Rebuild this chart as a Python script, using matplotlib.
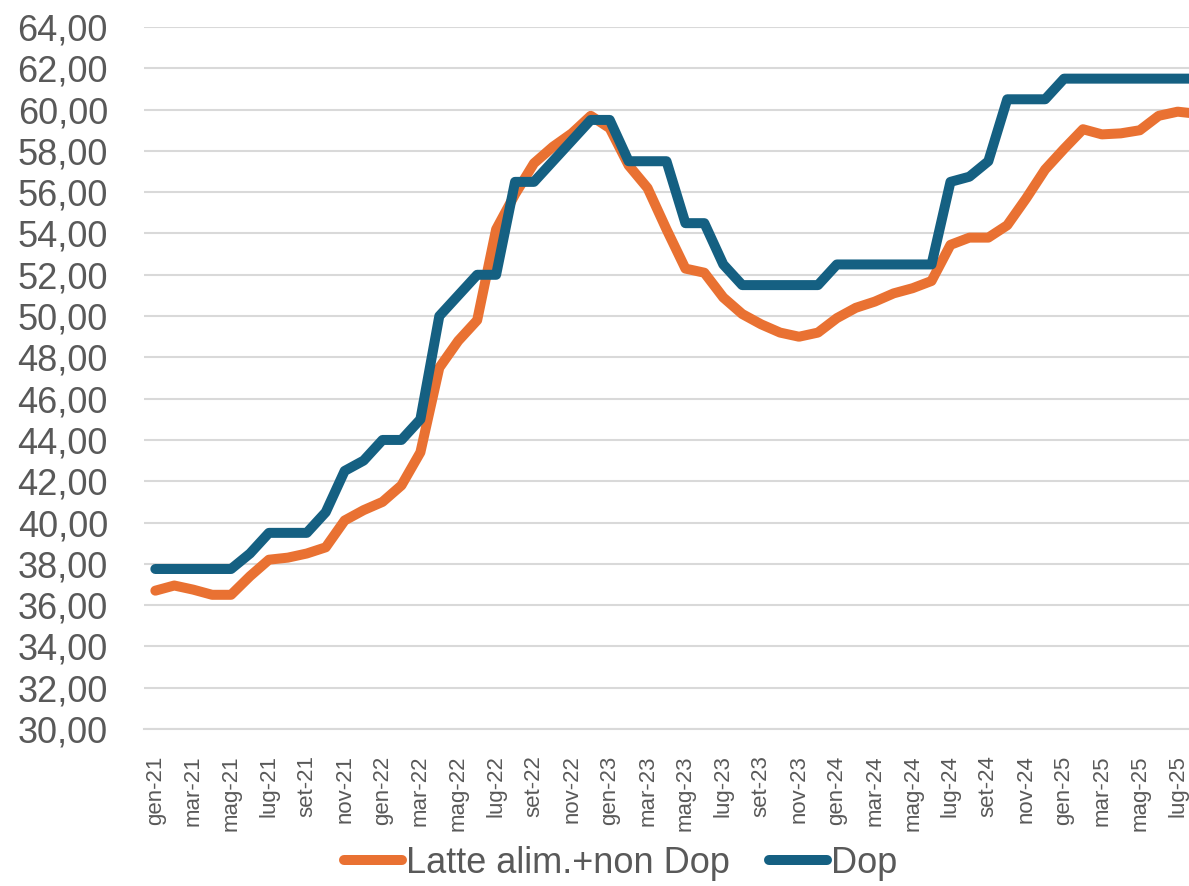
import matplotlib
matplotlib.use("Agg")
import matplotlib.pyplot as plt
from matplotlib.ticker import FuncFormatter, FixedLocator

months_it = ["gen", "feb", "mar", "apr", "mag", "giu", "lug", "ago", "set", "ott", "nov", "dic"]
categories = [f"{m}-{y:02d}" for y in range(21, 26) for m in months_it][:56]  # gen-21 .. ago-25

latte = [36.7, 36.95, 36.75, 36.5, 36.5, 37.4, 38.2, 38.3, 38.5, 38.8, 40.1, 40.6,
         41.0, 41.8, 43.4, 47.5, 48.8, 49.8, 54.2, 55.9, 57.4, 58.2, 58.85, 59.7,
         59.1, 57.3, 56.2, 54.2, 52.3, 52.1, 50.9, 50.1, 49.6, 49.2, 49.0, 49.2,
         49.9, 50.4, 50.7, 51.1, 51.35, 51.7, 53.45, 53.8, 53.8, 54.4, 55.7, 57.1,
         58.1, 59.05, 58.8, 58.85, 59.0, 59.7, 59.9, 59.8]
dop = [37.75, 37.75, 37.75, 37.75, 37.75, 38.5, 39.5, 39.5, 39.5, 40.5, 42.5, 43.0,
       44.0, 44.0, 45.0, 50.0, 51.0, 52.0, 52.0, 56.5, 56.5, 57.5, 58.5, 59.5,
       59.5, 57.5, 57.5, 57.5, 54.5, 54.5, 52.5, 51.5, 51.5, 51.5, 51.5, 51.5,
       52.5, 52.5, 52.5, 52.5, 52.5, 52.5, 56.5, 56.75, 57.5, 60.5, 60.5, 60.5,
       61.5, 61.5, 61.5, 61.5, 61.5, 61.5, 61.5, 61.5]
series_names = ["Latte alim.+non Dop", "Dop"]
yticks = list(range(30, 66, 2))

c_orange = "#E97132"
c_blue = "#156082"
grey_text = "#595959"
grid_c = "#D9D9D9"
font = ["Liberation Sans", "DejaVu Sans"]
plt.rcParams["font.family"] = font

fig = plt.figure(figsize=(11.89, 8.86), dpi=100)
ax = fig.add_axes([0.1211, 0.1772, 0.8789, 0.7923])

x = list(range(len(categories)))
for vals, col, name in [(latte, c_orange, series_names[0]), (dop, c_blue, series_names[1])]:
    ax.plot(x, vals, color=col, lw=7.2, solid_capstyle="round",
            solid_joinstyle="round", label=name)

ax.set_ylim(30, 64)
ax.set_xlim(-0.6, 54.6)
ax.yaxis.set_major_locator(FixedLocator(yticks))
ax.yaxis.set_major_formatter(FuncFormatter(lambda v, p: f"{v:.2f}".replace(".", ",")))
ax.set_xticks(x[::2])
ax.set_xticklabels(categories[::2], rotation=90, fontsize=16, color=grey_text)
ax.tick_params(axis="y", labelsize=26, colors=grey_text, length=0, pad=26)
ax.tick_params(axis="x", length=0, pad=19)
ax.grid(axis="y", color=grid_c, lw=1.5)
ax.set_axisbelow(True)
for s in ["top", "right", "left"]:
    ax.spines[s].set_visible(False)
ax.spines["bottom"].set_color(grid_c)
ax.spines["bottom"].set_linewidth(1.5)

leg = fig.legend(loc="lower center", bbox_to_anchor=(0.522, -0.031), ncol=2, frameon=False,
                 fontsize=26, handlelength=1.6, handletextpad=0.1, columnspacing=1.1)
for t in leg.get_texts():
    t.set_color(grey_text)

fig.savefig("out.png", dpi=100)
